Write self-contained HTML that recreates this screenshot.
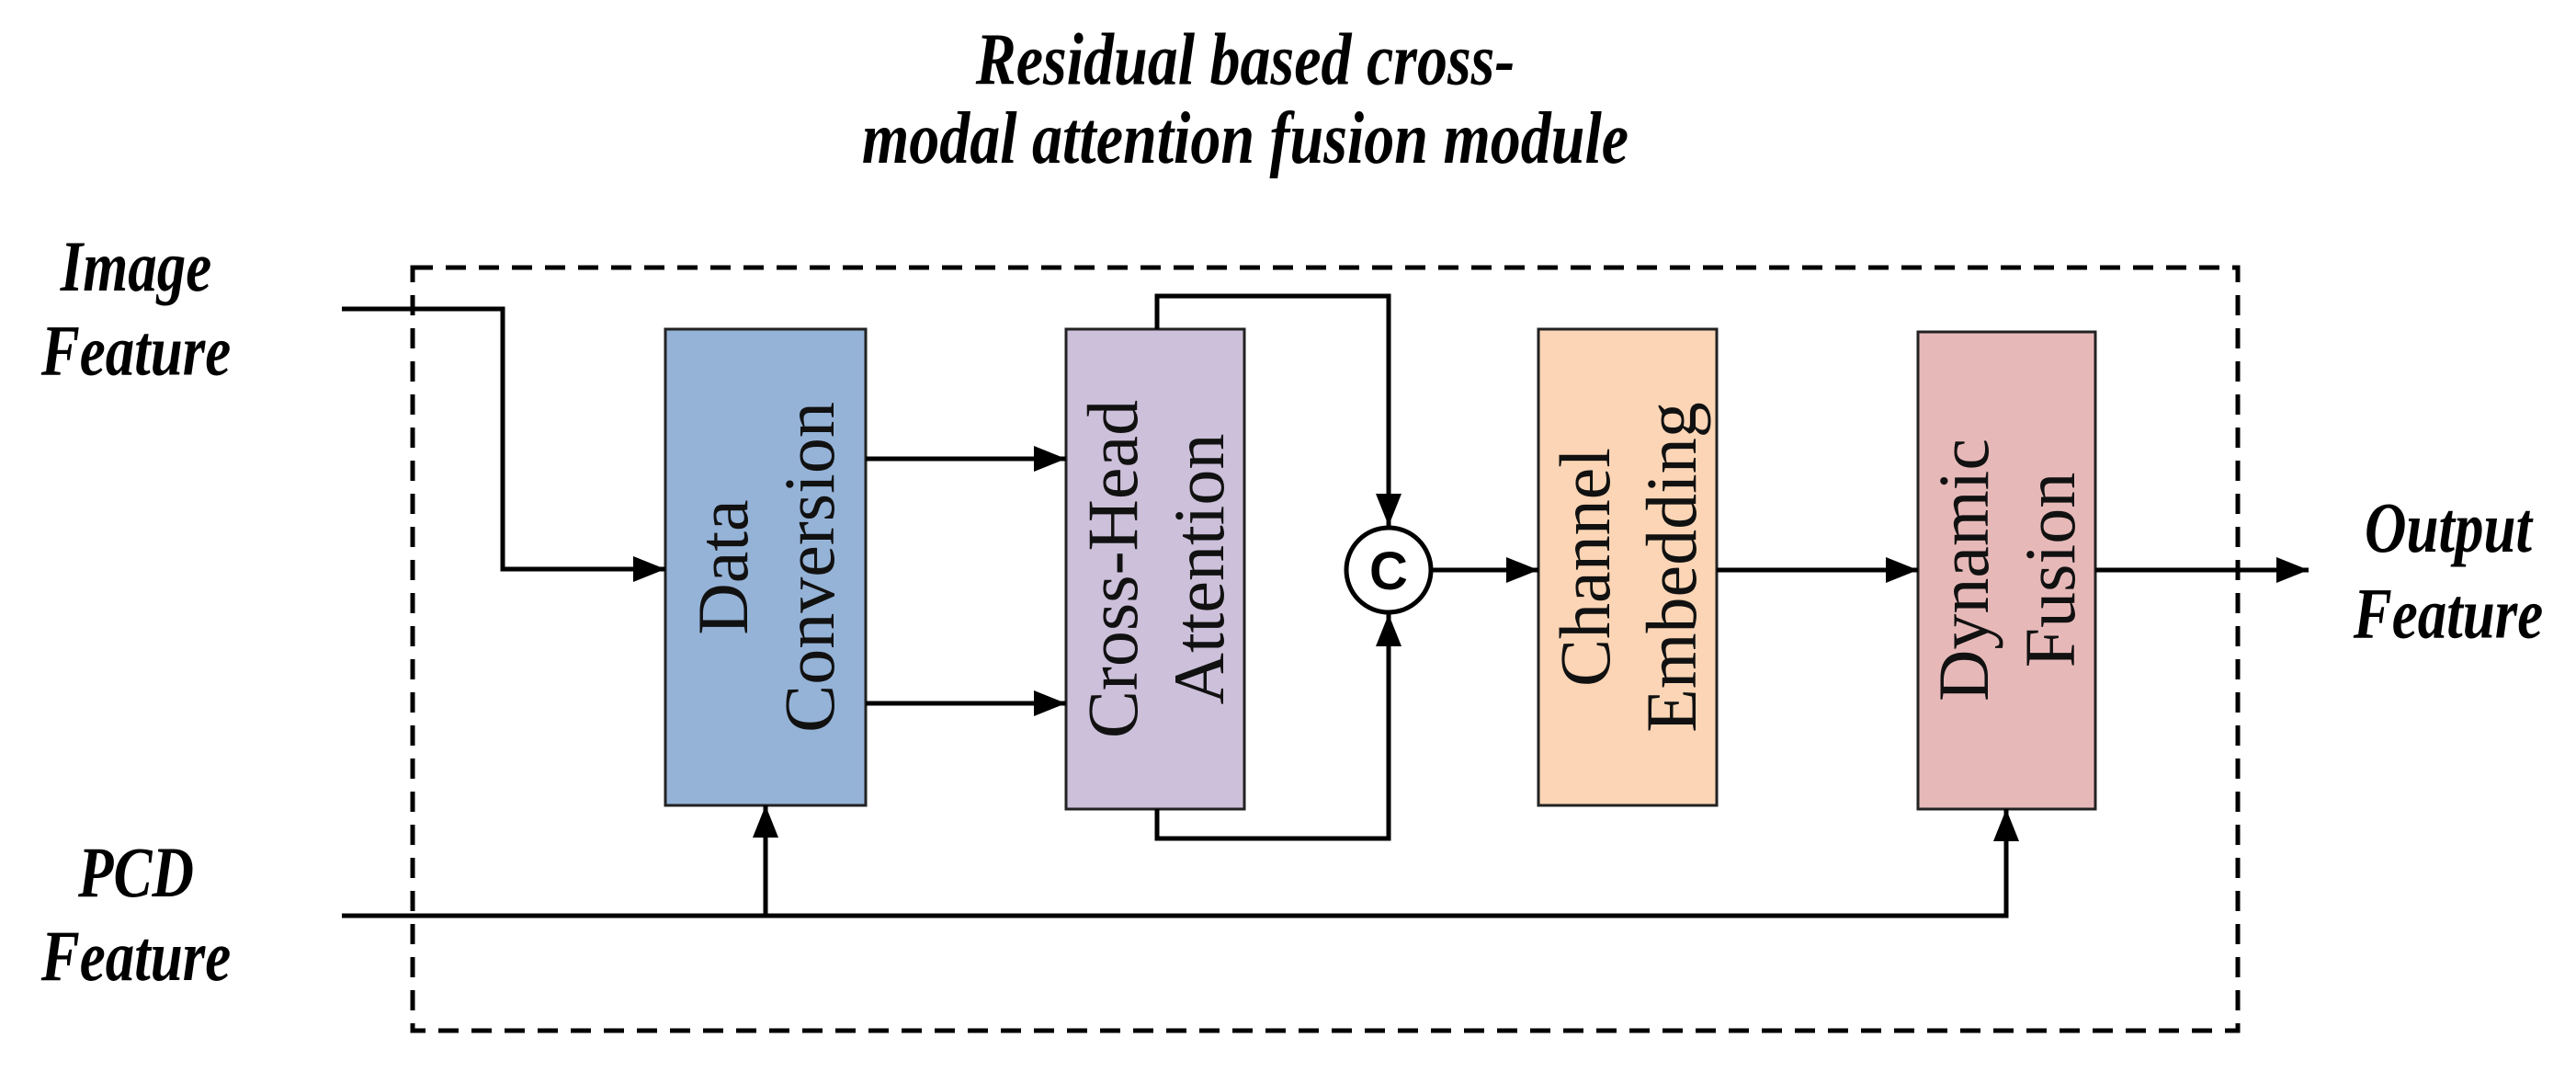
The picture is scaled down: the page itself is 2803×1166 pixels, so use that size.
<!DOCTYPE html>
<html><head><meta charset="utf-8"><style>html,body{margin:0;padding:0;background:#fff}svg{display:block}</style></head><body>
<svg width="2803" height="1166" viewBox="0 0 2803 1166" xmlns="http://www.w3.org/2000/svg">
<defs>
<marker id="b" viewBox="0 0 10 8" refX="10" refY="4" markerWidth="40" markerHeight="28" orient="auto" markerUnits="userSpaceOnUse"><path d="M0,0 L10,4 L0,8 z" fill="#000"/></marker></defs>
<g font-family="Liberation Serif, serif" font-weight="bold" font-style="italic" text-anchor="middle" fill="#000">
<g font-size="66" transform="scale(1,1.22)">
<text x="1355" y="75">Residual based cross-</text>
<text x="1355" y="145">modal attention fusion module</text>
</g>
<g font-size="63" transform="scale(1,1.25)">
<text x="148" y="253">Image</text><text x="148" y="326">Feature</text>
<text x="148" y="780">PCD</text><text x="148" y="853">Feature</text>
<text x="2664" y="480">Output</text><text x="2664" y="555">Feature</text>
</g>
</g>
<rect x="449" y="291" width="1986" height="830" fill="none" stroke="#000" stroke-width="5" stroke-dasharray="22,14"/>
<g stroke="#222" stroke-width="3">
<rect x="724" y="358" width="218" height="518" fill="#95b3d7"/>
<rect x="1160" y="358" width="194" height="522" fill="#ccc0da"/>
<rect x="1674" y="358" width="194" height="518" fill="#fbd5b5"/>
<rect x="2087" y="361" width="193" height="519" fill="#e6b9b8"/>
</g>
<g font-family="Liberation Serif, serif" font-size="78" text-anchor="middle" fill="#111">
<g transform="translate(833,617) rotate(-90)"><text x="0" y="-20">Data</text><text x="0" y="74">Conversion</text></g>
<g transform="translate(1257,619) rotate(-90)"><text x="0" y="-20">Cross-Head</text><text x="0" y="74">Attention</text></g>
<g transform="translate(1771,617) rotate(-90)"><text x="0" y="-20">Channel</text><text x="0" y="74">Embedding</text></g>
<g transform="translate(2183,620) rotate(-90)"><text x="0" y="-20">Dynamic</text><text x="0" y="74">Fusion</text></g>
</g>
<g fill="none" stroke="#000" stroke-width="5">
<polyline points="372,336 547,336 547,619 724,619" marker-end="url(#b)"/>
<line x1="942" y1="499" x2="1160" y2="499" marker-end="url(#b)"/>
<line x1="942" y1="765" x2="1160" y2="765" marker-end="url(#b)"/>
<polyline points="1259,358 1259,322 1511,322 1511,572" marker-end="url(#b)"/>
<polyline points="1259,880 1259,912 1511,912 1511,668" marker-end="url(#b)"/>
<line x1="1556" y1="620" x2="1674" y2="620" marker-end="url(#b)"/>
<line x1="1868" y1="620" x2="2087" y2="620" marker-end="url(#b)"/>
<line x1="2280" y1="620" x2="2512" y2="620" marker-end="url(#b)"/>
<polyline points="372,996 2183,996 2183,880" marker-end="url(#b)"/>
<line x1="833" y1="996" x2="833" y2="876" marker-end="url(#b)"/>
</g>
<circle cx="1511" cy="620" r="46" fill="#fff" stroke="#000" stroke-width="5"/>
<text x="1511" y="641" font-family="Liberation Sans, sans-serif" font-weight="bold" font-size="58" text-anchor="middle">C</text>
</svg>
</body></html>
